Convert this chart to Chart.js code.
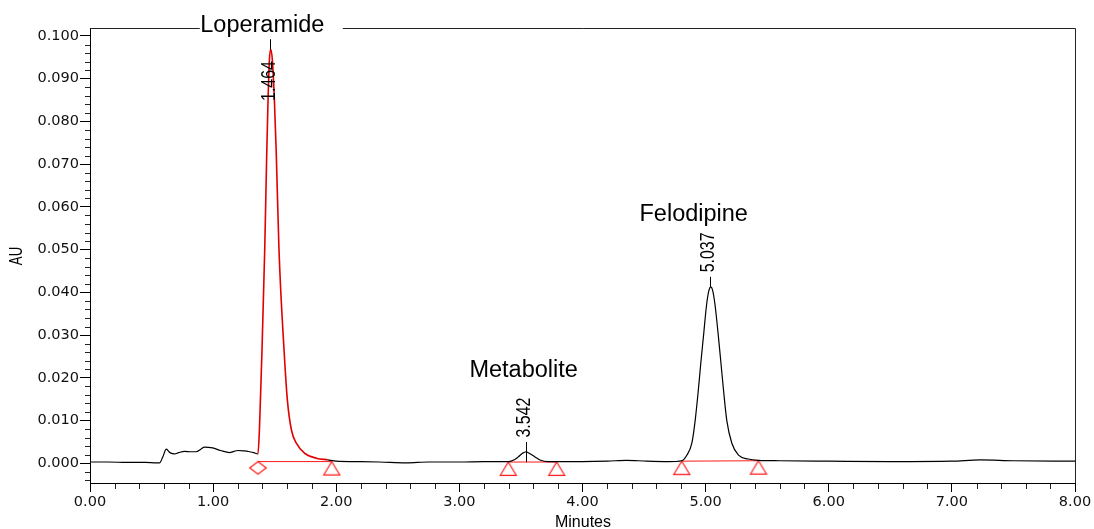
<!DOCTYPE html>
<html>
<head>
<meta charset="utf-8">
<script src="https://cdn.jsdelivr.net/npm/chart.js@4.4.1/dist/chart.umd.min.js"></script>
<style>
  html, body { margin: 0; padding: 0; background: #fff; }
  #wrap { width: 1094px; height: 529px; }
</style>
</head>
<body>
<div id="wrap"><canvas id="chrom" width="1094" height="529"></canvas></div>
<script>
// detector trace (minutes / AU)
const times = [
    0.00, 0.15, 0.30, 0.45, 0.54, 0.565, 0.59, 0.62, 0.65, 0.687, 0.72, 0.768, 0.82, 0.863, 0.90, 0.931,
    0.996, 1.06, 1.134, 1.17, 1.20, 1.25, 1.297, 1.33, 1.364,
    1.376, 1.384, 1.397, 1.419, 1.436, 1.446, 1.457, 1.4675, 1.481, 1.4976, 1.512, 1.535, 1.576, 1.603,
    1.636, 1.676, 1.744, 1.839, 1.931, 2.00,
    2.15, 2.35, 2.57, 2.75, 3.00, 3.20,
    3.397, 3.45, 3.478, 3.51, 3.541, 3.57, 3.614, 3.66, 3.72, 3.79,
    4.00, 4.20, 4.36, 4.52, 4.70,
    4.806, 4.847, 4.888, 4.915, 4.941, 4.960, 4.982, 5.009, 5.028, 5.042, 5.056, 5.075, 5.104, 5.124, 5.145, 5.172,
    5.213, 5.267, 5.346, 5.429,
    5.60, 6.00, 6.50, 7.00, 7.23, 7.50, 8.00
];
const absorbance = [
    0.0003, 0.0003, 0.0002, 0.0002, 0.0001, 0.0001, 0.0014, 0.0033, 0.0025, 0.0022, 0.0025, 0.0028, 0.0027, 0.0027, 0.0033, 0.0038,
    0.0036, 0.0030, 0.0025, 0.0028, 0.0030, 0.0029, 0.0027, 0.0025, 0.0022,
    0.0078, 0.0148, 0.0265, 0.0499, 0.0733, 0.0850, 0.0944, 0.0969, 0.0944, 0.0850, 0.0733, 0.0499, 0.0265, 0.0148,
    0.0078, 0.0047, 0.0023, 0.0012, 0.0008, 0.0005,
    0.0004, 0.0003, 0.0001, 0.0003, 0.0003, 0.0004,
    0.0004, 0.0009, 0.0015, 0.0023, 0.0027, 0.0023, 0.0015, 0.0007, 0.0004, 0.0004,
    0.0004, 0.0005, 0.0007, 0.0005, 0.0004,
    0.0006, 0.0019, 0.0047, 0.0100, 0.0172, 0.0232, 0.0296, 0.0374, 0.0406, 0.0413, 0.0406, 0.0374, 0.0296, 0.0236, 0.0172, 0.0100,
    0.0047, 0.0019, 0.0010, 0.0007,
    0.0006, 0.0005, 0.0004, 0.0005, 0.0008, 0.0006, 0.0005
];

// integrated peaks
const peakNames = ['Loperamide', 'Metabolite', 'Felodipine'];
const peakTimes = [1.464, 3.542, 5.037];
const peakHeights = [0.0969, 0.0027, 0.0413];
const peakStarts = [1.364, 3.397, 4.806];
const peakEnds = [1.963, 3.790, 5.429];
const startLevels = [0.0004, 0.0003, 0.0005];
const endLevels = [0.0004, 0.0003, 0.0006];

const xTicks = [0, 1, 2, 3, 4, 5, 6, 7, 8];
const yTicks = [0, 0.01, 0.02, 0.03, 0.04, 0.05, 0.06, 0.07, 0.08, 0.09, 0.10];

// label placement per peak (px, relative to the apex)
const nameDx = [-70, -56.7, -70.7];
const nameDy = [-17, -74.4, -66];

const RED = '#ff1a1a';

function markCanvas(kind) {
    const c = document.createElement('canvas');
    c.width = 20; c.height = 32;
    const g = c.getContext('2d');
    g.strokeStyle = RED; g.lineWidth = 1.2;
    g.beginPath();
    if (kind === 'diamond') {
        g.moveTo(10, 16); g.lineTo(18.3, 22.2); g.lineTo(10, 28.4); g.lineTo(1.7, 22.2);
    } else {
        g.moveTo(10, 16); g.lineTo(18, 29.3); g.lineTo(2, 29.3);
    }
    g.closePath();
    g.stroke();
    return c;
}
const diamond = markCanvas('diamond');
const triangle = markCanvas('triangle');

const trace = times.map((t, i) => ({ x: t, y: absorbance[i] }));

// baseline segments between integration marks, gaps between peaks
const baseline = [];
peakStarts.forEach((s, i) => {
    if (i > 0) baseline.push({ x: (peakEnds[i - 1] + s) / 2, y: null });
    baseline.push({ x: s, y: startLevels[i] });
    baseline.push({ x: peakEnds[i], y: endLevels[i] });
});

function vText(ctx, str, cx, yBottom, font, squeeze) {
    ctx.save();
    ctx.translate(cx, yBottom);
    ctx.rotate(-Math.PI / 2);
    ctx.scale(squeeze, 1);
    ctx.font = font;
    ctx.textAlign = 'left';
    ctx.textBaseline = 'middle';
    ctx.fillText(str, 0, 0);
    ctx.restore();
}

const annotate = {
    id: 'annotate',
    afterDatasetsDraw(chart) {
        const { ctx, chartArea: a, scales: { x, y } } = chart;
        ctx.save();

        // top and right frame
        ctx.strokeStyle = '#222';
        ctx.lineWidth = 1;
        ctx.beginPath();
        ctx.moveTo(a.left, Math.round(a.top) + 0.5);
        ctx.lineTo(Math.round(a.right) + 0.5, Math.round(a.top) + 0.5);
        ctx.lineTo(Math.round(a.right) + 0.5, a.bottom);
        ctx.stroke();

        // minor ticks
        ctx.beginPath();
        for (let i = 1; i < 40; i++) {
            if (i % 5 === 0) continue;
            const px = Math.round(x.getPixelForValue(i * 0.2)) + 0.5;
            ctx.moveTo(px, a.bottom + 1);
            ctx.lineTo(px, a.bottom + 6);
        }
        for (let i = -2; i <= 50; i++) {
            if (i % 5 === 0) continue;
            const py = Math.round(y.getPixelForValue(i * 0.002)) + 0.5;
            if (py > a.bottom || py < a.top) continue;
            ctx.moveTo(a.left - 5, py);
            ctx.lineTo(a.left, py);
        }
        ctx.stroke();

        ctx.fillStyle = '#000';
        peakTimes.forEach((t, i) => {
            const px = x.getPixelForValue(t);
            const apexY = y.getPixelForValue(peakHeights[i]);
            const baseY = y.getPixelForValue((startLevels[i] + endLevels[i]) / 2);
            const small = baseY - apexY < 20;
            const tickTop = small ? baseY - 20 : apexY - 10;
            const tickBottom = small ? baseY : apexY;
            const lx = Math.round(px) + 0.5;
            ctx.strokeStyle = '#000';
            ctx.beginPath();
            ctx.moveTo(lx, tickTop);
            ctx.lineTo(lx, tickBottom);
            ctx.stroke();

            const labelBottom = Math.max(tickTop - 4.5, a.top + 73);
            vText(ctx, t.toFixed(3), px - 1.5, labelBottom, '21px "Liberation Sans", Arial, sans-serif', 0.76);

            // compound name
            const left = px + nameDx[i];
            const baseTxt = apexY + nameDy[i];
            if (baseTxt - 20 < a.top) {
                ctx.fillStyle = '#fff';
                ctx.fillRect(left - 0.5, a.top - 4, 143, 8);
                ctx.fillStyle = '#000';
            }
            ctx.font = '23.5px "Liberation Sans", Arial, sans-serif';
            ctx.textAlign = 'left';
            ctx.textBaseline = 'alphabetic';
            ctx.fillText(peakNames[i], left, baseTxt);
        });

        // axis titles
        ctx.font = '16px "Liberation Sans", Arial, sans-serif';
        ctx.textAlign = 'center';
        ctx.textBaseline = 'alphabetic';
        ctx.fillText('Minutes', (a.left + a.right) / 2 + 0.5, 526.5);
        ctx.save();
        ctx.translate(17, 256);
        ctx.rotate(-Math.PI / 2);
        ctx.scale(0.7, 1);
        ctx.font = '19px "Liberation Sans", Arial, sans-serif';
        ctx.textBaseline = 'middle';
        ctx.fillText('AU', 0, 0);
        ctx.restore();

        ctx.restore();
    }
};

const tickFont = { family: 'DejaVu Sans', size: 14.5 };

new Chart(document.getElementById('chrom'), {
    type: 'line',
    data: {
        datasets: [
            {
                data: trace,
                borderColor: '#000',
                borderWidth: 1.2,
                pointRadius: 0,
                cubicInterpolationMode: 'monotone',
                segment: {
                    borderColor: c => (c.p0.parsed.x >= peakStarts[0] - 1e-6 && c.p1.parsed.x <= peakEnds[0]) ? '#e00000' : '#000',
                    borderWidth: c => (c.p0.parsed.x >= peakStarts[0] - 1e-6 && c.p1.parsed.x <= peakEnds[0]) ? 1.6 : 1.2
                }
            },
            {
                data: baseline,
                borderColor: RED,
                borderWidth: 1,
                spanGaps: false,
                pointRadius: 3,
                pointStyle: c => (c.dataIndex === 0 ? diamond : triangle)
            }
        ]
    },
    options: {
        responsive: false,
        animation: false,
        events: [],
        layout: { padding: { top: 28, right: 19, left: 0, bottom: 0 } },
        plugins: { legend: { display: false }, tooltip: { enabled: false } },
        scales: {
            x: {
                type: 'linear',
                min: 0,
                max: 8,
                afterBuildTicks: s => { s.ticks = xTicks.map(v => ({ value: v })); },
                afterFit: s => { s.height = 46; },
                ticks: {
                    callback: v => v.toFixed(2),
                    font: tickFont,
                    color: '#111',
                    padding: 2,
                    maxRotation: 0,
                    autoSkip: false
                },
                grid: { drawOnChartArea: false, tickLength: 9, tickColor: '#000' },
                border: { color: '#000', width: 1 }
            },
            y: {
                type: 'linear',
                min: -0.00461,
                max: 0.10187,
                afterBuildTicks: s => { s.ticks = yTicks.map(v => ({ value: v })); },
                afterFit: s => { s.width = 90; },
                ticks: {
                    callback: v => v.toFixed(3),
                    font: tickFont,
                    color: '#111',
                    padding: 1
                },
                grid: { drawOnChartArea: false, tickLength: 10, tickColor: '#000' },
                border: { color: '#000', width: 1 }
            }
        }
    },
    plugins: [annotate]
});
</script>
</body>
</html>
